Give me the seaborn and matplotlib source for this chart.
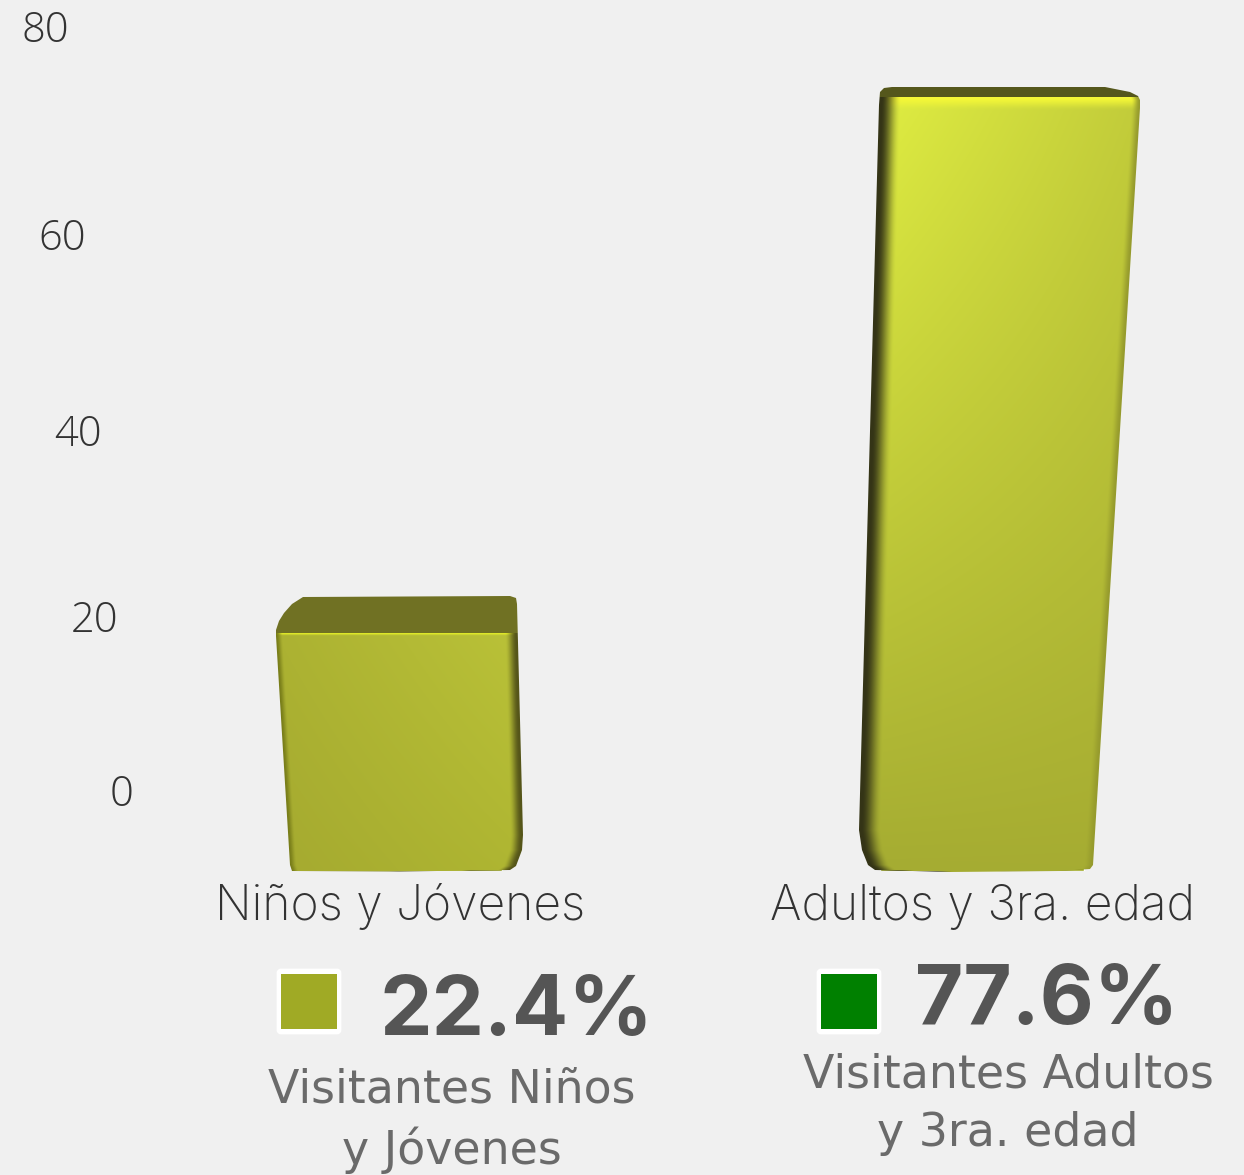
import numpy as np
import matplotlib
matplotlib.use("Agg")
import matplotlib.pyplot as plt
from matplotlib.patches import FancyBboxPatch, PathPatch, Rectangle
from matplotlib.path import Path
import seaborn as sns

# ---------- data ----------
categories = ["Niños y Jóvenes", "Adultos y 3ra. edad"]
values = [22.4, 77.6]
y_ticks = [0, 20, 40, 60, 80]
pct_labels = ["22.4%", "77.6%"]
captions = ["Visitantes Niños\ny Jóvenes", "Visitantes Adultos\ny 3ra. edad"]
swatch_colors = ["#a0aa25", "#008000"]

# ---------- style ----------
W, H = 1244, 1175
BG = "#f0f0f0"
AXIS_BOTTOM = 871
BAR_PIXELS = [0, 238, 774, 871]           # perspective of the bar scale
BAR_VALUES = [0, 22.4, 77.6, 87.6]
TICK_PIXELS = [-10000, 81, 255, 441, 637, 845, 20000]   # perspective of the axis labels
TICK_VALUES = [-1100, 0, 20, 40, 60, 80, 2200]
TICK_RIGHT = [133, 118, 102, 86, 69]

sns.set_theme(style="white", rc={"figure.facecolor": BG, "savefig.facecolor": BG})
fig = plt.figure(figsize=(W / 100, H / 100), dpi=100)
rect = [0, (H - AXIS_BOTTOM) / H, 1, AXIS_BOTTOM / H]

# bars
ax = fig.add_axes(rect, zorder=1)
ax.patch.set_alpha(0)
ax.set_yscale("function", functions=(
    lambda v: np.interp(v, BAR_VALUES, BAR_PIXELS),
    lambda p: np.interp(p, BAR_PIXELS, BAR_VALUES)))
sns.barplot(x=categories, y=values, color=swatch_colors[0], saturation=1, width=0.35, ax=ax)
ax.set_xlim(-400 / 582, (W - 400) / 582)
ax.set_ylim(0, 87.6)
ax.set_yticks([])
ax.minorticks_off()
ax.tick_params(axis="y", which="both", left=False, labelleft=False)
ax.tick_params(axis="x", length=0, pad=9, labelsize=34.5, labelcolor="#333333")
for t in ax.get_xticklabels():
    t.set_fontfamily("Inter"); t.set_fontweight("light")
sns.despine(ax=ax, left=True, bottom=True)
ax.set_xlabel(""); ax.set_ylabel("")

# value axis, with its own perspective
ay = fig.add_axes(rect, zorder=0)
ay.patch.set_alpha(0)
ay.set_yscale("function", functions=(
    lambda v: np.interp(v, TICK_VALUES, TICK_PIXELS),
    lambda p: np.interp(p, TICK_PIXELS, TICK_VALUES)))
ay.set_ylim(np.interp(0, TICK_PIXELS, TICK_VALUES), np.interp(AXIS_BOTTOM, TICK_PIXELS, TICK_VALUES))
ay.set_yticks(y_ticks)
ay.set_yticklabels([str(v) for v in y_ticks])
ay.minorticks_off()
ay.set_xticks([])
ay.tick_params(axis="y", length=0, pad=0, labelsize=30, labelcolor="#333333")
for lab, r in zip(ay.get_yticklabels(), TICK_RIGHT):
    lab.set_x(r / W); lab.set_fontfamily("Open Sans"); lab.set_fontweight("light"); lab.set_ha("right")
sns.despine(ax=ay, left=True, bottom=True)

# overlay in picture pixels for the 3D shading, legend and captions
ov = fig.add_axes([0, 0, 1, 1], zorder=2)
ov.set_xlim(0, W); ov.set_ylim(H, 0); ov.axis("off")

SHADE = [
    dict(top=[(-124,3),(-124,-3),(-121,-12),(-116,-20),(-108,-29),(-97,-36),(110,-37),(116,-35),(117,-29)],
         bottom=[(123,-36),(122,-21),(116,-5),(110,-1),(0,0.5),(-108,0),(-110,-6)],
         corners=[(172,178,50),(186,194,56),(165,170,48),(175,182,50)],
         left=((120,125,25),0,7), right=((85,85,25),1,12),
         face=(112,113,35), hi=(225,235,40), hi_h=3),
    dict(top=[(-103,8),(-102,-5),(-98,-9),(-90,-10),(123,-10),(148,-5),(156,-1),(158,3),(158,11)],
         bottom=[(111,-6),(108,-2),(78,0),(-32,1),(-107,-1),(-114,-6),(-120,-21),(-123,-41)],
         corners=[(226,240,66),(194,204,58),(165,172,50),(166,172,50)],
         left=((52,52,22),2,20), right=((150,155,45),0,9),
         face=(85,87,28), hi=(245,248,55), hi_h=14),
]

def row_edges(poly, ys):
    xl, xr = np.full(len(ys), np.inf), np.full(len(ys), -np.inf)
    n = len(poly)
    for i in range(n):
        (x0, y0), (x1, y1) = poly[i], poly[(i + 1) % n]
        if y0 == y1:
            continue
        lo, hi = min(y0, y1), max(y0, y1)
        m = (ys >= lo) & (ys <= hi)
        xs = x0 + (ys[m] - y0) * (x1 - x0) / (y1 - y0)
        xl[m] = np.minimum(xl[m], xs); xr[m] = np.maximum(xr[m], xs)
    return xl, xr

def smooth(t):
    t = np.clip(t, 0, 1)
    return t * t * (3 - 2 * t)

for patch, spec in zip(ax.patches, SHADE):
    bb = patch.get_window_extent()
    xc = (bb.x0 + bb.x1) / 2
    ytop, ybot = H - bb.y1, H - bb.y0
    poly = [(xc + dx, ytop + dy) for dx, dy in spec["top"]] + [(xc + dx, ybot + dy) for dx, dy in spec["bottom"]]
    P = np.array(poly)
    X0, X1 = int(P[:, 0].min()) - 2, int(P[:, 0].max()) + 3
    Y0, Y1 = int(P[:, 1].min()) - 2, int(P[:, 1].max()) + 3
    xs = np.arange(X0, X1) + 0.5
    ys = np.arange(Y0, Y1) + 0.5
    XX, YY = np.meshgrid(xs, ys)
    u = np.clip((XX - P[:, 0].min()) / np.ptp(P[:, 0]), 0, 1)[..., None]
    v = np.clip((YY - ytop) / (ybot - ytop), 0, 1)[..., None]
    tl, tr, bl, br = [np.array(c, float) for c in spec["corners"]]
    img = (1 - v) * ((1 - u) * tl + u * tr) + v * ((1 - u) * bl + u * br)
    # highlight under the top edge
    k = (1 - smooth((YY - ytop) / spec["hi_h"]))[..., None]
    img = img * (1 - k) + np.array(spec["hi"], float) * k
    # side faces
    xl, xr = row_edges(poly, ys)
    xl = xl[:, None]; xr = xr[:, None]
    col, solid, fade = spec["left"]
    k = (1 - smooth((XX - xl - solid) / fade))[..., None]
    img = img * (1 - k) + np.array(col, float) * k
    col, solid, fade = spec["right"]
    k = (1 - smooth((xr - XX - solid) / fade))[..., None]
    img = img * (1 - k) + np.array(col, float) * k
    # top face
    k = (YY < ytop)[..., None]
    img = np.where(k, np.array(spec["face"], float), img)
    im = ov.imshow(np.clip(img, 0, 255).astype(np.uint8), extent=(X0, X1, Y1, Y0),
                   aspect="auto", interpolation="bilinear", zorder=2)
    clip = PathPatch(Path(poly + [poly[0]], closed=True), transform=ov.transData, fc="none", ec="none")
    ov.add_patch(clip)
    im.set_clip_path(clip)
ov.set_xlim(0, W); ov.set_ylim(H, 0)

# legend blocks
SWATCH_X = [277, 817]
PCT_XY = [(380, 1035), (915, 1024)]
CAP_XC = [452, 1008]
CAP_Y = [(1090, 1150), (1075, 1133)]
for i in range(2):
    x = SWATCH_X[i]
    ov.add_patch(FancyBboxPatch((x + 1, 970), 62, 63, boxstyle="round,pad=0,rounding_size=3",
                                fc="white", ec="white", lw=2, zorder=3))
    ov.add_patch(Rectangle((x + 4, 974), 56, 55, fc=swatch_colors[i], ec="none", zorder=4))
    ov.text(PCT_XY[i][0], PCT_XY[i][1], pct_labels[i], fontsize=60, fontfamily="Inter", fontweight="bold",
            color="#555555", ha="left", va="baseline", zorder=4)
    for line, yy in zip(captions[i].split("\n"), CAP_Y[i]):
        ov.text(CAP_XC[i], yy, line, fontsize=33, fontfamily="DejaVu Sans", fontweight="normal",
                color="#6a6a6a", ha="center", va="center", zorder=4)

fig.savefig("out.png", dpi=100)
